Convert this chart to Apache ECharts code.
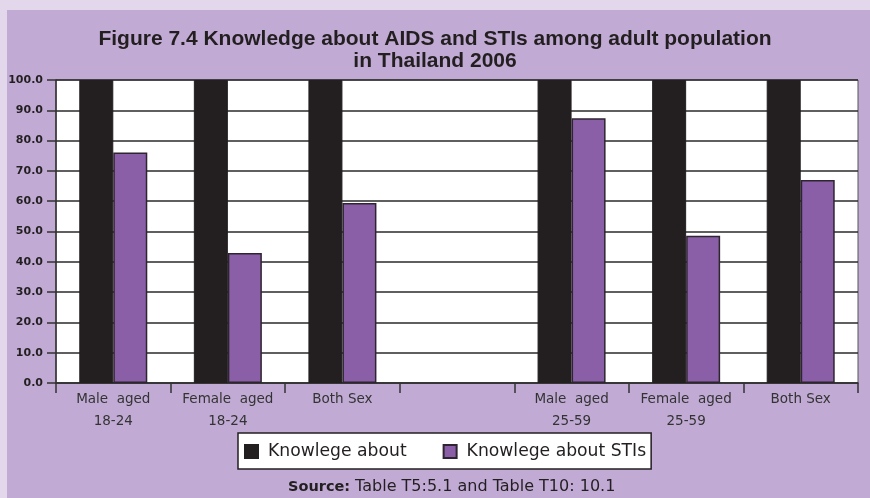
<!DOCTYPE html>
<html>
<head>
<meta charset="utf-8">
<script src="https://cdn.jsdelivr.net/npm/echarts@6/dist/echarts.min.js"></script>
<style>
  html, body { margin: 0; padding: 0; background: #e3d7eb; }
  #chart { width: 870px; height: 498px; }
</style>
</head>
<body>
<div id="chart"></div>
<script>
// Categories (the empty slot separates the two age bands)
const categories = ['Male  aged\n18-24', 'Female  aged\n18-24', 'Both Sex', '', 'Male  aged\n25-59', 'Female  aged\n25-59', 'Both Sex'];
const aidsKnowledge = [100.0, 100.0, 100.0, null, 100.0, 100.0, 100.0];
const stiKnowledge = [76.1, 42.9, 59.4, null, 87.4, 48.6, 67.0];
const yTicks = [0, 10, 20, 30, 40, 50, 60, 70, 80, 90, 100];
const seriesNames = ['Knowlege about', 'Knowlege about STIs'];

const chart = echarts.init(document.getElementById('chart'));
const labelFont = '"DejaVu Sans", sans-serif';

chart.setOption({
  backgroundColor: '#e3d7eb',
  animation: false,
  graphic: [
    {
      type: 'rect',
      shape: { x: 7, y: 10, width: 863, height: 488 },
      style: { fill: '#c1abd5' },
      z: -10
    }
  ],
  title: [
    {
      text: 'Figure 7.4 Knowledge about AIDS and STIs among adult population\nin Thailand 2006',
      left: 'center',
      top: 23,
      textStyle: {
        fontFamily: '"Liberation Sans Narrow", "Liberation Sans", Arial, sans-serif',
        fontWeight: 'bold',
        fontSize: 21,
        lineHeight: 22,
        color: '#231f20'
      }
    },
    {
      text: '{b|Source:} {r|Table T5:5.1 and Table T10: 10.1}',
      left: 283,
      top: 473,
      textStyle: {
        rich: {
          b: { fontFamily: labelFont, fontWeight: 'bold', fontSize: 14.5, color: '#231f20' },
          r: { fontFamily: labelFont, fontWeight: 'normal', fontSize: 16, color: '#231f20' }
        }
      }
    }
  ],
  legend: {
    data: seriesNames,
    left: 238,
    top: 433,
    width: 415,
    height: 35,
    padding: [10, 5, 9, 6],
    itemGap: 36,
    itemWidth: 13,
    itemHeight: 13,
    icon: 'rect',
    backgroundColor: '#ffffff',
    borderColor: '#231f20',
    borderWidth: 1.5,
    textStyle: { fontFamily: labelFont, fontSize: 17.2, color: '#231f20', padding: [0, 0, 0, 5] }
  },
  grid: {
    left: 56,
    top: 80,
    right: 12,
    bottom: 115,
    show: true,
    backgroundColor: '#ffffff',
    borderColor: '#555555',
    borderWidth: 1
  },
  xAxis: {
    type: 'category',
    data: categories,
    boundaryGap: true,
    axisLine: { show: true, lineStyle: { color: '#333333', width: 1.5 } },
    axisTick: { show: true, length: 10, alignWithLabel: false, lineStyle: { color: '#333333', width: 1.5 } },
    axisLabel: {
      interval: 0,
      margin: 5,
      fontFamily: labelFont,
      fontSize: 13.5,
      lineHeight: 22,
      color: '#333333'
    }
  },
  yAxis: {
    type: 'value',
    min: yTicks[0],
    max: yTicks[yTicks.length - 1],
    interval: 10,
    axisLine: { show: true, lineStyle: { color: '#333333', width: 1.5 } },
    axisTick: { show: true, length: 9, lineStyle: { color: '#333333', width: 1.5 } },
    splitLine: { show: true, lineStyle: { color: '#2a2a2a', width: 1.5 } },
    axisLabel: {
      margin: 13,
      fontFamily: labelFont,
      fontWeight: 'bold',
      fontSize: 11,
      color: '#231f20',
      formatter: v => v.toFixed(1)
    }
  },
  series: [
    {
      name: seriesNames[0],
      type: 'bar',
      data: aidsKnowledge,
      barWidth: 34,
      barGap: '0%',
      itemStyle: { color: '#231f20', borderColor: '#231f20', borderWidth: 1 }
    },
    {
      name: seriesNames[1],
      type: 'bar',
      data: stiKnowledge,
      barWidth: 34,
      barGap: '0%',
      itemStyle: { color: '#8a5fa8', borderColor: '#2e2530', borderWidth: 1.5 }
    }
  ]
});
</script>
</body>
</html>
